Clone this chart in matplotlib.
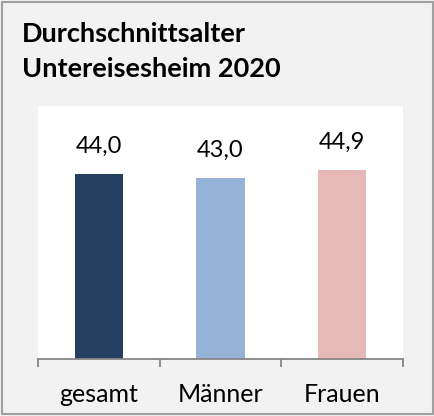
import matplotlib
matplotlib.use('Agg')
import matplotlib.pyplot as plt
from matplotlib.patches import Rectangle

# data
categories = ['gesamt', 'Männer', 'Frauen']
values = [44.0, 43.0, 44.9]
bar_colors = ['#243F60', '#95B3D7', '#E6B9B8']

plt.rcParams['font.family'] = ['Lato', 'DejaVu Sans']

fig = plt.figure(figsize=(4.35, 4.16), dpi=100)
fig.patch.set_facecolor('#F2F2F2')
fig.add_artist(Rectangle((0.004, 0.004), 0.992, 0.992, transform=fig.transFigure,
                         fill=False, edgecolor='#A0A0A0', linewidth=1.5))

# title, two lines placed by baseline
fig.text(0.051, 1 - 41.7 / 416, 'Durchschnittsalter', fontsize=19.5,
         fontweight='bold', va='baseline', ha='left')
fig.text(0.051, 1 - 76.7 / 416, 'Untereisesheim 2020', fontsize=19.5,
         fontweight='bold', va='baseline', ha='left')

ax = fig.add_axes([0.0874, 0.137, 0.839, 0.608])
ax.set_facecolor('white')
x = range(len(categories))
ax.bar(x, values, width=0.4, color=bar_colors)
for xi, v in zip(x, values):
    ax.annotate(f'{v:.1f}'.replace('.', ','), (xi, v), xytext=(0, 15),
                textcoords='offset points', ha='center', va='baseline', fontsize=17)

ax.set_xlim(-0.5, 2.5)
ax.set_ylim(0, 60)
ax.set_yticks([])
for s in ['top', 'left', 'right']:
    ax.spines[s].set_visible(False)
ax.spines['bottom'].set_color('#868686')
ax.spines['bottom'].set_linewidth(1.3)
ax.set_xticks(list(x))
ax.set_xticklabels([])
ax.tick_params(axis='x', which='major', length=0)
ax.set_xticks([-0.5, 0.5, 1.5, 2.5], minor=True)
ax.tick_params(axis='x', which='minor', length=6, width=1.3, color='#868686', direction='out')

# category labels below the axis
for xi, name in zip(x, categories):
    ax.annotate(name, (xi, 0), xycoords=('data', 'axes fraction'), xytext=(0, -31),
                textcoords='offset points', ha='center', va='baseline', fontsize=18,
                annotation_clip=False)

fig.savefig('out.png', dpi=100, facecolor=fig.get_facecolor())
